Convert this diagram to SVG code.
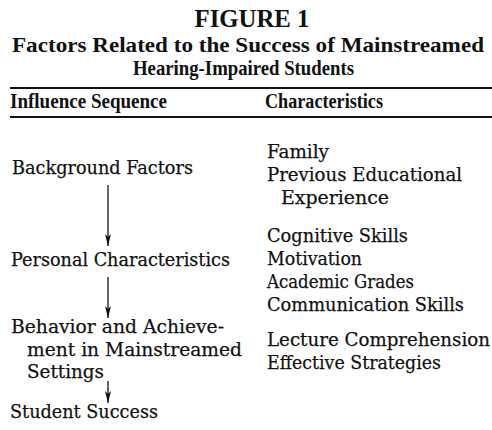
<svg xmlns="http://www.w3.org/2000/svg" width="492" height="430" viewBox="0 0 492 430">
  <style>
    .title { font-family: "Liberation Serif", "DejaVu Serif", serif; font-weight: bold; fill: #111; }
    .head { font-family: "Liberation Serif", serif; font-weight: bold; font-size: 20px; fill: #111; }
    .body { font-family: "DejaVu Serif", "Liberation Serif", serif; font-size: 18.5px; fill: #111; stroke: #111; stroke-width: 0.25; }
    .rule { stroke: #111; stroke-width: 2; }
    .flow { stroke: #111; stroke-width: 1.3; fill: none; marker-end: url(#arrow); }
  </style>
  <defs>
    <!-- narrow filled arrowhead, drawn along +x so orient="auto" turns it with the line -->
    <marker id="arrow" viewBox="0 0 12 6" refX="12" refY="3" markerWidth="12" markerHeight="6" markerUnits="userSpaceOnUse" orient="auto">
      <path d="M0,0 L12,3 L0,6 L3,3 Z" fill="#111"/>
    </marker>
  </defs>
  <rect width="492" height="430" fill="#fff"/>

  <!-- Title block -->
  <g id="title">
    <text class="title" x="252" y="27" font-size="25" text-anchor="middle" textLength="115" lengthAdjust="spacingAndGlyphs">FIGURE 1</text>
    <text class="title" x="12" y="52" font-size="22" textLength="472" lengthAdjust="spacingAndGlyphs">Factors Related to the Success of Mainstreamed</text>
    <text class="title" x="133" y="75" font-size="22" textLength="221" lengthAdjust="spacingAndGlyphs">Hearing-Impaired Students</text>
  </g>

  <!-- Table header -->
  <g id="header">
    <line class="rule" x1="10" y1="88" x2="492" y2="88"/>
    <text class="head" x="10" y="108" textLength="157" lengthAdjust="spacingAndGlyphs">Influence Sequence</text>
    <text class="head" x="265" y="108" textLength="118" lengthAdjust="spacingAndGlyphs">Characteristics</text>
    <line class="rule" x1="10" y1="117" x2="492" y2="117"/>
  </g>

  <!-- Influence sequence -->
  <g id="background-factors">
    <text class="body" x="12" y="174" textLength="181" lengthAdjust="spacingAndGlyphs">Background Factors</text>
  </g>
  <g id="personal-characteristics">
    <text class="body" x="11" y="266" textLength="219" lengthAdjust="spacingAndGlyphs">Personal Characteristics</text>
  </g>
  <g id="behavior-achievement">
    <text class="body" x="11" y="333" textLength="213" lengthAdjust="spacingAndGlyphs">Behavior and Achieve-</text>
    <text class="body" x="27" y="356" textLength="215" lengthAdjust="spacingAndGlyphs">ment in Mainstreamed</text>
    <text class="body" x="27" y="378" textLength="77" lengthAdjust="spacingAndGlyphs">Settings</text>
  </g>
  <g id="student-success">
    <text class="body" x="10" y="418" textLength="148" lengthAdjust="spacingAndGlyphs">Student Success</text>
  </g>

  <!-- Characteristics -->
  <g id="background-characteristics">
    <text class="body" x="267" y="158" textLength="62" lengthAdjust="spacingAndGlyphs">Family</text>
    <text class="body" x="267" y="181" textLength="195" lengthAdjust="spacingAndGlyphs">Previous Educational</text>
    <text class="body" x="281" y="204" textLength="108" lengthAdjust="spacingAndGlyphs">Experience</text>
  </g>
  <g id="personal-characteristics-list">
    <text class="body" x="267" y="242" textLength="141" lengthAdjust="spacingAndGlyphs">Cognitive Skills</text>
    <text class="body" x="267" y="265" textLength="95" lengthAdjust="spacingAndGlyphs">Motivation</text>
    <text class="body" x="267" y="288" textLength="147" lengthAdjust="spacingAndGlyphs">Academic Grades</text>
    <text class="body" x="267" y="311" textLength="197" lengthAdjust="spacingAndGlyphs">Communication Skills</text>
  </g>
  <g id="behavior-characteristics">
    <text class="body" x="267" y="346" textLength="223" lengthAdjust="spacingAndGlyphs">Lecture Comprehension</text>
    <text class="body" x="267" y="369" textLength="174" lengthAdjust="spacingAndGlyphs">Effective Strategies</text>
  </g>

  <!-- Connectors -->
  <g id="connectors">
    <line class="flow" x1="108" y1="185" x2="108" y2="246"/>
    <line class="flow" x1="108" y1="277" x2="108" y2="318"/>
    <line class="flow" x1="108" y1="381" x2="108" y2="403"/>
  </g>
</svg>
